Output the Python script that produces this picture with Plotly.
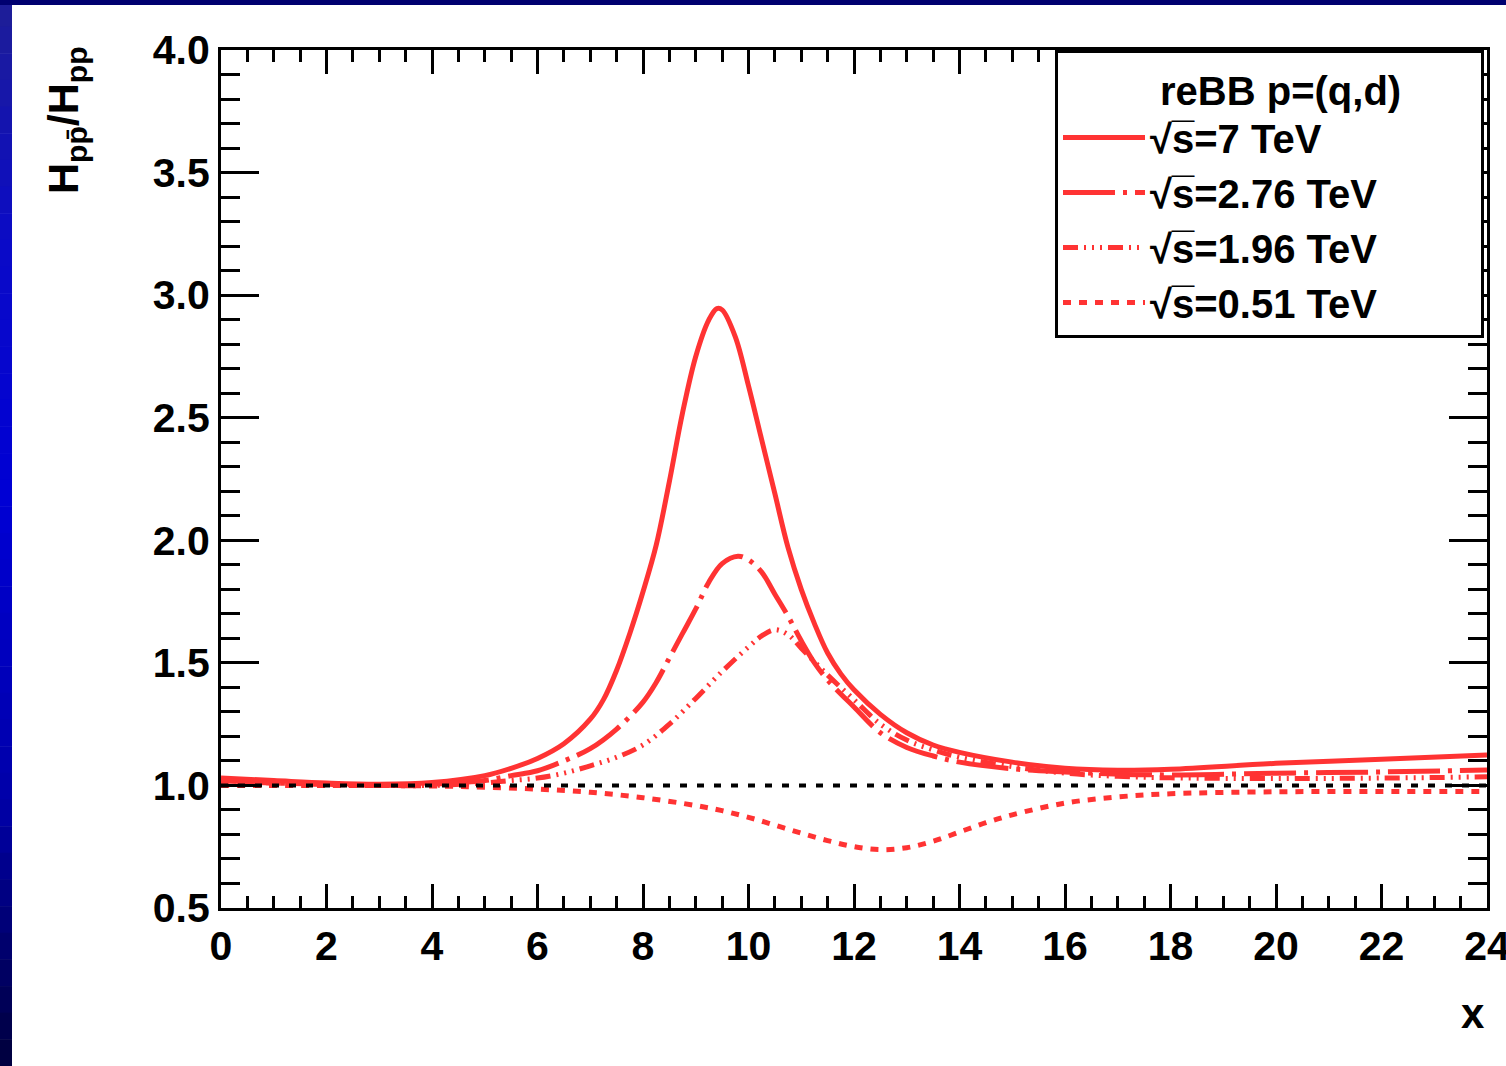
import plotly.graph_objects as go

# ---------------- data ----------------
x_7 = [0, 1, 2, 3, 4, 5, 5.5, 6, 6.5, 7, 7.25, 7.5, 7.75, 8, 8.25, 8.5, 8.75, 9, 9.25,
       9.4, 9.5, 9.75, 10, 10.25, 10.5, 10.75, 11, 11.25, 11.5, 11.75, 12, 12.5, 13,
       13.5, 14, 15, 16, 17, 18, 20, 22, 24]
y_7 = [1.03, 1.02, 1.01, 1.005, 1.012, 1.04, 1.07, 1.11, 1.17, 1.27, 1.35, 1.47, 1.62,
       1.79, 1.98, 2.24, 2.52, 2.75, 2.90, 2.945, 2.94, 2.83, 2.63, 2.41, 2.19, 1.97,
       1.80, 1.66, 1.54, 1.455, 1.39, 1.29, 1.215, 1.165, 1.135, 1.095, 1.07, 1.062,
       1.066, 1.09, 1.107, 1.124]

x_276 = [0, 1, 2, 3, 4, 5, 5.5, 6, 6.5, 7, 7.5, 8, 8.25, 8.5, 8.75, 9, 9.25, 9.5, 9.8,
         10, 10.25, 10.5, 10.75, 11, 11.25, 11.5, 12, 12.5, 13, 13.5, 14, 15, 16, 17,
         18, 20, 22, 24]
y_276 = [1.02, 1.01, 1.005, 1.0, 1.005, 1.02, 1.04, 1.06, 1.10, 1.15, 1.23, 1.34, 1.42,
         1.52, 1.62, 1.72, 1.83, 1.905, 1.935, 1.92, 1.87, 1.78, 1.69, 1.59, 1.50, 1.43,
         1.32, 1.215, 1.155, 1.12, 1.095, 1.068, 1.055, 1.046, 1.043, 1.05, 1.055, 1.063]

x_196 = [0, 1, 2, 3, 4, 5, 5.5, 6, 6.5, 7, 7.5, 8, 8.5, 9, 9.5, 10, 10.25, 10.5, 10.75,
         11, 11.5, 12, 12.5, 13, 13.5, 14, 15, 16, 17, 18, 20, 22, 24]
y_196 = [1.02, 1.01, 1.005, 1.0, 1.0, 1.01, 1.02, 1.03, 1.05, 1.08, 1.115, 1.165, 1.25,
         1.355, 1.465, 1.565, 1.61, 1.635, 1.615, 1.56, 1.45, 1.35, 1.25, 1.185, 1.145,
         1.115, 1.077, 1.05, 1.037, 1.031, 1.028, 1.03, 1.035]

x_051 = [0, 2, 4, 5, 6, 7, 8, 9, 9.5, 10, 10.5, 11, 11.5, 12, 12.5, 13, 13.5, 14, 14.5,
         15, 16, 17, 18, 20, 22, 24]
y_051 = [1.0, 1.0, 0.998, 0.993, 0.985, 0.972, 0.95, 0.918, 0.897, 0.87, 0.838, 0.805,
         0.775, 0.75, 0.738, 0.746, 0.772, 0.81, 0.848, 0.88, 0.928, 0.953, 0.966,
         0.974, 0.975, 0.975]

ref_x = [0, 24]
ref_y = [1.0, 1.0]

names = ["√s̅=7 TeV", "√s̅=2.76 TeV", "√s̅=1.96 TeV", "√s̅=0.51 TeV"]
legend_title = "reBB p=(q,d)"

RED = "#ff3333"
FONT = "Liberation Sans"

fig = go.Figure()
series = [
    (x_7, y_7, names[0], "solid"),
    (x_276, y_276, names[1], "52px,8px,4px,8px"),
    (x_196, y_196, names[2], "15px,6px,2px,6px,2px,6px,2px,6px"),
    (x_051, y_051, names[3], "8px,8px"),
]
for xs, ys, nm, dash in series:
    fig.add_trace(go.Scatter(x=xs, y=ys, name=nm, mode="lines",
                             line=dict(color=RED, width=5, dash=dash, shape="spline",
                                       smoothing=1.0)))

fig.add_trace(go.Scatter(x=ref_x, y=ref_y, mode="lines", showlegend=False,
                         line=dict(color="black", width=4, dash="7px,10px")))

W, H = 1506, 1066
L, R, T, B = 221, 19, 50, 158
PW, PH = W - L - R, H - T - B

def px2x(p):
    return (p - L) / PW

def py2y(p):
    return (H - B - p) / PH

# blue frame decoration (left gradient strip + top strip)
shapes = []
stops = [(0, (30, 30, 150)), (250, (10, 10, 200)), (500, (0, 0, 212)),
         (800, (0, 0, 168)), (1066, (0, 0, 60))]
nb = 40
for i in range(nb):
    y0p = H * i / nb
    y1p = H * (i + 1) / nb
    ym = (y0p + y1p) / 2
    for (a, ca), (b, cb) in zip(stops[:-1], stops[1:]):
        if a <= ym <= b:
            t = (ym - a) / (b - a)
            c = tuple(int(round(ca[k] + t * (cb[k] - ca[k]))) for k in range(3))
            break
    shapes.append(dict(type="rect", xref="paper", yref="paper",
                       x0=px2x(0), x1=px2x(12), y0=py2y(y1p + 0.5), y1=py2y(y0p),
                       fillcolor="rgb(%d,%d,%d)" % c, line=dict(width=0), layer="above"))
shapes.append(dict(type="rect", xref="paper", yref="paper",
                   x0=px2x(0), x1=px2x(W), y0=py2y(5), y1=py2y(0),
                   fillcolor="#000070", line=dict(width=0), layer="above"))

axis_common = dict(showgrid=False, zeroline=False, showline=True, linecolor="black",
                   linewidth=3, mirror="ticks", ticks="inside", tickcolor="black",
                   tickwidth=3, ticklabeloverflow="allow", automargin=False,
                   tickfont=dict(family=FONT, size=41, color="black", weight="bold"))

# non-breaking spaces widen the legend box to the reference's width
PAD_L = "\u00a0" * 9
PAD_R = "\u00a0" * 7

fig.update_layout(
    width=W, height=H,
    margin=dict(l=L, r=R, t=T, b=B, pad=0, autoexpand=False),
    paper_bgcolor="white", plot_bgcolor="white",
    showlegend=True,
    xaxis=dict(range=[0, 24], dtick=2, tick0=0, ticklen=24,
               minor=dict(dtick=0.5, ticklen=12, tickwidth=3, ticks="inside",
                          tickcolor="black", showgrid=False),
               **axis_common),
    yaxis=dict(range=[0.5, 4.0], dtick=0.5, tick0=0.5, ticklen=38, tickformat=".1f",
               minor=dict(dtick=0.1, ticklen=19, tickwidth=3, ticks="inside",
                          tickcolor="black", showgrid=False),
               **axis_common),
    legend=dict(x=px2x(1055), y=1.0, xanchor="left", yanchor="top",
                bgcolor="white", bordercolor="black", borderwidth=3,
                font=dict(family=FONT, size=40, color="black", weight="bold"),
                title=dict(text=PAD_L + legend_title + PAD_R, side="top center",
                           font=dict(family=FONT, size=40, color="black", weight="bold")),
                itemwidth=82, tracegroupgap=0),
    shapes=shapes,
    annotations=[
        dict(text="H<sub>pp̄</sub>/H<sub>pp</sub>", xref="paper", yref="paper",
             x=px2x(95), y=py2y(44), xanchor="right", yanchor="top", textangle=-90,
             showarrow=False,
             font=dict(family=FONT, size=43, color="black", weight="bold")),
        dict(text="x", xref="paper", yref="paper", x=px2x(1487), y=py2y(988),
             xanchor="right", yanchor="top", showarrow=False,
             font=dict(family=FONT, size=42, color="black", weight="bold")),
    ],
)

fig.write_html("out.html", config={"displayModeBar": False},
               post_script="document.body.style.margin='0px';")
